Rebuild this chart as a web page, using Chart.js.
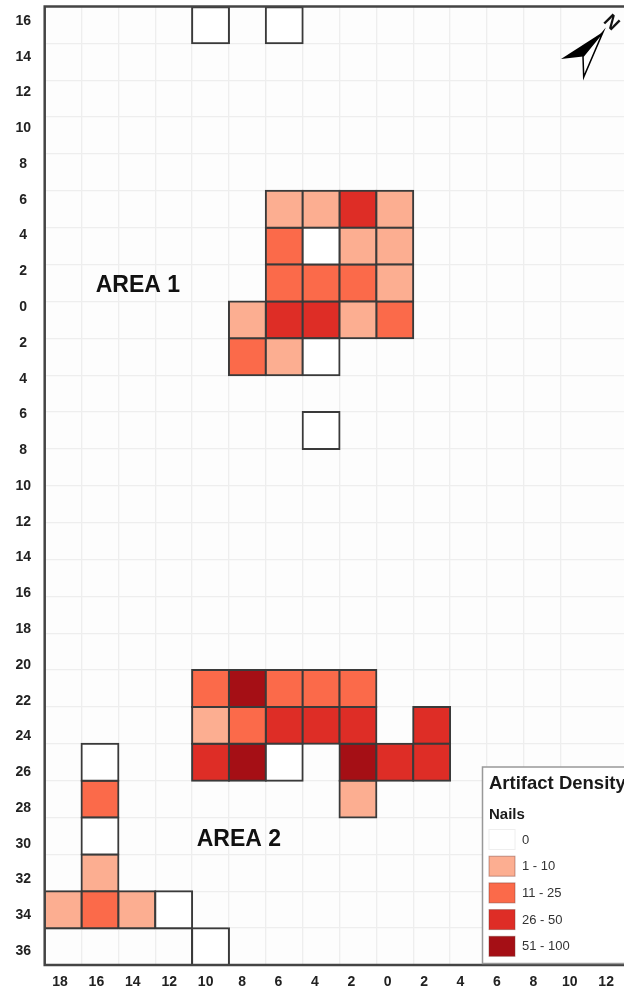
<!DOCTYPE html>
<html>
<head>
<meta charset="utf-8">
<title>Artifact Density - Nails</title>
<script src="https://cdn.jsdelivr.net/npm/chart.js@4"></script>
<style>
  html, body { margin: 0; padding: 0; background: #fff; }
  canvas { display: block; }
</style>
</head>
<body>
<canvas id="gridChart" width="624" height="992"></canvas>
<script>
const xLabels = ["18","16","14","12","10","8","6","4","2","0","2","4","6","8","10","12"];
const yLabels = ["16","14","12","10","8","6","4","2","0","2","4","6","8","10","12","14","16","18","20","22","24","26","28","30","32","34","36"];

// cells are [column, row], counted from the top left corner of the grid
const nails0 = [[4,0],[6,0],[7,6],[7,9],[7,11],[6,20],[1,20],[1,22],[3,24],[4,25]];
const nails1to10 = [[6,5],[7,5],[9,5],[8,6],[9,6],[9,7],[5,8],[8,8],[6,9],[4,19],[8,21],[1,23],[0,24],[2,24]];
const nails11to25 = [[6,6],[6,7],[7,7],[8,7],[9,8],[5,9],[4,18],[6,18],[7,18],[8,18],[5,19],[1,21],[1,24]];
const nails26to50 = [[8,5],[6,8],[7,8],[6,19],[7,19],[8,19],[10,19],[4,20],[9,20],[10,20]];
const nails51to100 = [[5,18],[5,20],[8,20]];
// unit along the bottom edge that has no inner lines
const bottomStrip = [[0,25],[1,25],[2,25],[3,25]];

const classLabels = ["0","1 - 10","11 - 25","26 - 50","51 - 100"];
const classColors = ["#ffffff","#fcae91","#fb6a4a","#de2d26","#a50f15"];
const classSeries = [nails0, nails1to10, nails11to25, nails26to50, nails51to100];

const FONT = '"Liberation Sans", Arial, sans-serif';
const LINE = "#3a3a3a";

function toBars(cells) {
  return cells.map(c => ({ x: c[0] + 0.5, y: [c[1], c[1] + 1] }));
}

const datasets = classSeries.map((cells, i) => ({
  label: classLabels[i],
  data: toBars(cells),
  backgroundColor: classColors[i]
}));
datasets.unshift({
  label: "strip",
  data: toBars(bottomStrip),
  backgroundColor: "rgba(0,0,0,0)",
  inflateAmount: 0,
  borderWidth: ctx => {
    const col = ctx.raw.x - 0.5;
    return { top: 1, bottom: 1, left: 0, right: col === 3 ? 1 : 0 };
  }
});

const mapExtras = {
  id: "mapExtras",
  beforeDraw(chart) {
    const a = chart.chartArea, c = chart.ctx;
    c.save();
    c.fillStyle = "#fdfdfd";
    c.fillRect(a.left, a.top, a.right - a.left, a.bottom - a.top);
    c.restore();
  },
  afterDraw(chart) {
    const a = chart.chartArea, c = chart.ctx;
    c.save();

    // frame, its right side runs off the page
    c.strokeStyle = "#444";
    c.lineWidth = 2.5;
    c.strokeRect(a.left, a.top, a.right - a.left + 10, a.bottom - a.top);

    // area names
    c.fillStyle = "#111";
    c.font = "bold 23px " + FONT;
    c.textAlign = "center";
    c.textBaseline = "middle";
    c.fillText("AREA 1", chart.scales.x.getPixelForValue(2.53), chart.scales.y.getPixelForValue(7.58));
    c.fillText("AREA 2", chart.scales.x.getPixelForValue(5.27), chart.scales.y.getPixelForValue(22.59));

    // north arrow
    c.beginPath();
    c.moveTo(603, 32); c.lineTo(561, 59); c.lineTo(583, 56.5); c.closePath();
    c.fillStyle = "#000"; c.fill();
    c.beginPath();
    c.moveTo(603, 32); c.lineTo(583, 56.5); c.lineTo(583.7, 77); c.closePath();
    c.fillStyle = "#fff"; c.fill();
    c.strokeStyle = "#000"; c.lineWidth = 1.5; c.stroke();
    c.save();
    c.translate(611, 23);
    c.rotate(Math.PI / 4);
    c.font = "bold 19px " + FONT;
    c.fillStyle = "#111";
    c.fillText("N", 0, 0);
    c.restore();

    // legend
    c.fillStyle = "#fff";
    c.strokeStyle = "#999";
    c.lineWidth = 1.5;
    c.fillRect(482.5, 767, 145, 196.5);
    c.strokeRect(482.5, 767, 145, 196.5);
    c.textAlign = "left";
    c.fillStyle = "#1a1a1a";
    c.font = "bold 18.5px " + FONT;
    c.fillText("Artifact Density", 489, 783.5);
    c.font = "bold 15px " + FONT;
    c.fillText("Nails", 489, 814.5);
    c.font = "13px " + FONT;
    classLabels.forEach((label, i) => {
      const cy = 839.5 + i * 26.7;
      c.fillStyle = classColors[i];
      c.fillRect(489, cy - 10, 26, 20);
      c.strokeStyle = i === 0 ? "#eeeeee" : "rgba(120,60,50,0.45)";
      c.lineWidth = 1;
      c.strokeRect(489, cy - 10, 26, 20);
      c.fillStyle = "#333";
      c.fillText(label, 522, cy + 0.5);
    });
    c.restore();
  }
};

const tickFont = { family: FONT, size: 14, weight: "bold" };

new Chart(document.getElementById("gridChart"), {
  type: "bar",
  data: { datasets },
  plugins: [mapExtras],
  options: {
    responsive: false,
    animation: false,
    devicePixelRatio: 1,
    layout: { padding: { top: 6.5, right: 0, left: 0, bottom: 0 } },
    plugins: { legend: { display: false }, tooltip: { enabled: false } },
    datasets: {
      bar: {
        grouped: false,
        barPercentage: 1,
        categoryPercentage: 1,
        borderColor: LINE,
        borderWidth: 2,
        borderSkipped: false,
        inflateAmount: 1
      }
    },
    scales: {
      x: {
        type: "linear",
        position: "bottom",
        offset: false,
        min: 0,
        max: 15.72,
        grid: { offset: false, color: "#eeeeee", lineWidth: 1.3, drawTicks: false },
        border: { display: false },
        // the last column is cut off by the page edge, keep whole columns only
        afterBuildTicks: s => { s.ticks = s.ticks.filter(t => Number.isInteger(t.value)); },
        ticks: { display: false, stepSize: 1, autoSkip: false }
      },
      y: {
        type: "linear",
        position: "left",
        reverse: true,
        min: 0,
        max: 26,
        grid: { color: "#eeeeee", lineWidth: 1.3, drawTicks: false },
        border: { display: false },
        ticks: { display: false, stepSize: 1, autoSkip: false }
      },
      // tick labels run on a slightly different spacing than the grid
      xTicks: {
        type: "linear",
        position: "bottom",
        offset: false,
        min: -0.42,
        max: 15.49,
        grid: { display: false, drawTicks: false },
        border: { display: false },
        afterBuildTicks: s => { s.ticks = xLabels.map((_, i) => ({ value: i })); },
        afterFit: s => { s.height = 27; },
        ticks: {
          autoSkip: false,
          maxRotation: 0,
          padding: 9,
          color: "#222",
          font: tickFont,
          callback: v => xLabels[v]
        }
      },
      yTicks: {
        type: "linear",
        position: "left",
        reverse: true,
        min: -0.405,
        max: 26.39,
        grid: { display: false, drawTicks: false },
        border: { display: false },
        afterBuildTicks: s => { s.ticks = yLabels.map((_, i) => ({ value: i })); },
        afterFit: s => { s.width = 44.7; s.paddingTop = 0; s.paddingBottom = 0; },
        ticks: {
          autoSkip: false,
          crossAlign: "center",
          padding: 13.7,
          color: "#222",
          font: tickFont,
          callback: v => yLabels[v]
        }
      }
    }
  }
});
</script>
</body>
</html>
